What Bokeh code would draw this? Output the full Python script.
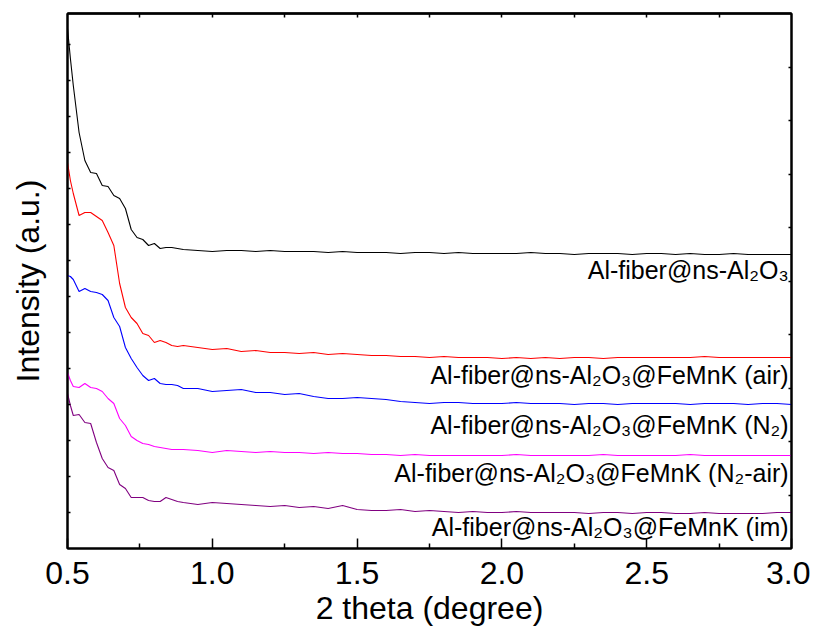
from bokeh.plotting import figure
from bokeh.models import Range1d, LinearAxis, FixedTicker, CustomJSTickFormatter, PrintfTickFormatter
from bokeh.core.properties import value
from bokeh.embed import file_html
from bokeh.resources import INLINE

# 2 theta (degree)
two_theta = [0.50, 0.51, 0.52, 0.54, 0.56, 0.58, 0.60, 0.62, 0.64, 0.66, 0.68,
             0.70, 0.72, 0.74, 0.76, 0.78, 0.80, 0.82, 0.84, 0.86, 0.88, 0.90,
             0.95, 1.00, 1.05, 1.10, 1.15, 1.20, 1.25, 1.30, 1.35, 1.40,
             1.45, 1.50, 1.55, 1.60, 1.65, 1.70, 1.75, 1.80, 1.85, 1.90,
             1.95, 2.00, 2.05, 2.10, 2.15, 2.20, 2.25, 2.30, 2.35, 2.40,
             2.45, 2.50, 2.55, 2.60, 2.65, 2.70, 2.75, 2.80, 2.85, 2.90,
             2.95, 3.00]

# Intensity (a.u.), stacked curves
al2o3 = [520, 490, 463, 416, 388, 376, 375, 363, 362, 353, 350,
         340, 319, 311, 309, 303, 305, 300, 301, 301, 300, 299,
         298, 297, 298, 298, 297, 298, 297, 297, 297, 296,
         297, 296, 296, 296, 295, 296, 296, 295, 296, 295,
         295, 295, 295, 296, 295, 295, 294, 295, 295, 295,
         294, 295, 295, 294, 295, 294, 294, 295, 294, 294,
         294, 294]
femnk_air = [386, 368, 355, 333, 336, 336, 332, 328, 316, 303, 265,
             241, 231, 225, 215, 213, 206, 208, 206, 203, 202, 203,
             201, 199, 200, 197, 198, 196, 196, 195, 196, 194,
             195, 194, 193, 193, 192, 192, 191, 192, 191, 191,
             191, 190, 191, 190, 191, 190, 191, 191, 190, 191,
             191, 191, 191, 191, 191, 192, 191, 191, 191, 191,
             191, 191]
femnk_n2 = [273, 272, 269, 257, 260, 257, 256, 254, 248, 231, 222,
            201, 190, 181, 173, 168, 170, 165, 164, 164, 163, 160,
            160, 157, 158, 159, 156, 156, 154, 155, 152, 150,
            150, 151, 150, 149, 147, 146, 145, 146, 146, 145,
            145, 145, 146, 145, 145, 145, 144, 145, 145, 144,
            145, 145, 145, 145, 144, 145, 145, 145, 144, 145,
            145, 144]
femnk_n2_air = [176, 168, 162, 161, 165, 161, 160, 157, 150, 145, 130,
                123, 112, 108, 105, 104, 102, 101, 100, 99, 99, 99,
                98, 96, 98, 97, 96, 97, 96, 96, 95, 96,
                95, 95, 94, 94, 93, 94, 93, 93, 93, 93,
                93, 93, 94, 93, 93, 93, 93, 93, 94, 93,
                93, 93, 93, 93, 94, 93, 93, 93, 93, 93,
                93, 93]
femnk_im = [155, 143, 133, 134, 126, 125, 106, 90, 81, 78, 64,
            60, 51, 51, 51, 48, 47, 47, 51, 49, 47, 46,
            44, 46, 45, 44, 43, 42, 43, 41, 42, 40,
            43, 39, 38, 38, 39, 37, 38, 37, 36, 37,
            36, 36, 37, 36, 36, 36, 36, 35, 36, 36,
            35, 36, 36, 35, 35, 36, 35, 35, 35, 35,
            36, 36]

series = [al2o3, femnk_air, femnk_n2, femnk_n2_air, femnk_im]
colors = ["#000000", "#FF0000", "#0000FF", "#FF00FF", "#800080"]
labels = ["Al-fiber@ns-Al₂O₃",
          "Al-fiber@ns-Al₂O₃@FeMnK (air)",
          "Al-fiber@ns-Al₂O₃@FeMnK (N₂)",
          "Al-fiber@ns-Al₂O₃@FeMnK (N₂-air)",
          "Al-fiber@ns-Al₂O₃@FeMnK (im)"]
label_y = [279, 174, 124, 76, 22]

x_ticks = [0.5, 1.0, 1.5, 2.0, 2.5, 3.0]
x_minor = [0.75, 1.25, 1.75, 2.25, 2.75]

for s in series:
    assert len(s) == len(two_theta)

FONT = "Liberation Sans"
BLANK = CustomJSTickFormatter(code="return ''")

p = figure(width=810, height=629, output_backend="svg", toolbar_location=None,
           x_range=Range1d(0.5, 3.0), y_range=Range1d(0, 535))
p.min_border_left = 67
p.min_border_right = 19
p.min_border_top = 13
p.min_border_bottom = 81
p.xgrid.visible = False
p.ygrid.visible = False
p.outline_line_color = "black"
p.outline_line_width = 2
p.background_fill_color = "white"
p.border_fill_color = "white"

for s, c in zip(series, colors):
    p.line(two_theta, s, line_color=c, line_width=1.1)

p.text(x=[2.99] * len(labels), y=label_y, text=labels,
       text_align="right", text_baseline="middle",
       text_font=value(FONT), text_font_size="25px", text_color="black")

# bottom axis
xa = p.xaxis[0]
xa.ticker = FixedTicker(ticks=x_ticks, minor_ticks=x_minor)
xa.formatter = PrintfTickFormatter(format="%.1f")
xa.axis_label = "2 theta (degree)"
xa.axis_label_text_font = FONT
xa.axis_label_text_font_size = "32px"
xa.axis_label_text_font_style = "normal"
xa.axis_label_text_color = "black"
xa.axis_label_standoff = 3
xa.major_label_text_font = FONT
xa.major_label_text_font_size = "32px"
xa.major_label_text_color = "black"
xa.major_label_standoff = 13
xa.major_tick_in = 10
xa.major_tick_out = 0
xa.minor_tick_in = 5
xa.minor_tick_out = 0
xa.axis_line_width = 2
xa.major_tick_line_width = 1.5
xa.minor_tick_line_width = 1.5

# left axis
ya = p.yaxis[0]
ya.ticker = FixedTicker(ticks=[36 * k for k in range(1, 15)], minor_ticks=[])
ya.formatter = BLANK
ya.axis_label = "Intensity (a.u.)"
ya.axis_label_text_font = FONT
ya.axis_label_text_font_size = "32px"
ya.axis_label_text_font_style = "normal"
ya.axis_label_text_color = "black"
ya.axis_label_standoff = 22
ya.major_label_standoff = 0
ya.major_tick_in = 3
ya.major_tick_out = 0
ya.minor_tick_in = 0
ya.minor_tick_out = 0
ya.axis_line_width = 2
ya.major_tick_line_width = 1.5

# top axis
ta = LinearAxis(ticker=FixedTicker(ticks=[0.75, 1.0, 1.25, 1.5, 1.75, 2.0, 2.25, 2.5, 2.75],
                                   minor_ticks=[]), formatter=BLANK)
ta.major_label_standoff = 0
ta.major_tick_in = 4
ta.major_tick_out = 0
ta.minor_tick_in = 0
ta.minor_tick_out = 0
ta.axis_line_width = 2.5
ta.axis_line_color = "black"
ta.major_tick_line_width = 1.5
p.add_layout(ta, "above")

# right axis
ra = LinearAxis(ticker=FixedTicker(ticks=[53.5 * k for k in range(1, 10)], minor_ticks=[]),
                formatter=BLANK)
ra.major_label_standoff = 0
ra.major_tick_in = 3
ra.major_tick_out = 0
ra.minor_tick_in = 0
ra.minor_tick_out = 0
ra.axis_line_width = 2
ra.major_tick_line_width = 1.5
p.add_layout(ra, "right")

open("out.html", "w").write(file_html(p, INLINE))
